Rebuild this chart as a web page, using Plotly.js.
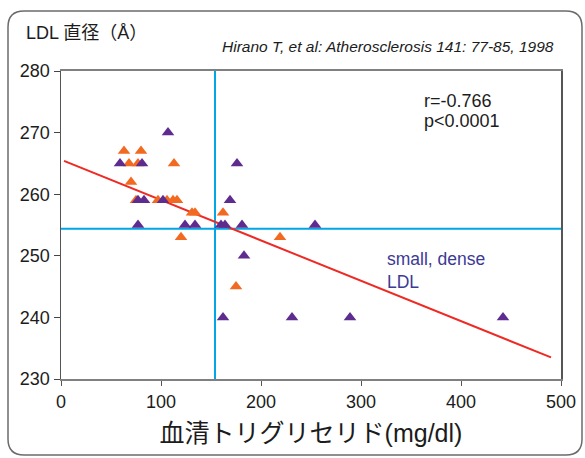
<!DOCTYPE html>
<html>
<head>
<meta charset="utf-8">
<script src="https://cdn.plot.ly/plotly-3.0.1.min.js"></script>
<style>html,body{margin:0;padding:0;background:#fff;}#chart{width:585px;height:458px;}</style>
</head>
<body>
<div id="chart"></div>
<script>
// ---- data ----
const orangeX = [63, 80, 68, 77, 113, 70, 75, 97, 106, 112, 116, 131, 134, 162, 120, 219, 175];
const orangeY = [267, 267, 265, 265, 265, 262, 259, 259, 259, 259, 259, 257, 257, 257, 253, 253, 245];
const purpleX = [107, 59, 81, 176, 77, 83, 102, 169, 77, 124, 134, 160, 164, 181, 254, 183, 162, 231, 289, 442];
const purpleY = [270, 265, 265, 265, 259, 259, 259, 259, 255, 255, 255, 255, 255, 255, 255, 250, 240, 240, 240, 240];
const regX = [3, 490];
const regY = [265.4, 233.5];
const tgCut = 154;
const ldlCut = 254.4;
const xTicks = [0, 100, 200, 300, 400, 500];
const yTicks = [230, 240, 250, 260, 270, 280];

// ---- layout helpers ----
const L = 61, R = 561, T = 71, B = 379;
const px = v => (v - L) / (R - L);
const py = v => (B - v) / (B - T);

function roundRect(x0, y0, x1, y1, r) {
  const a = px(x0), b = px(x1), c = py(y0), d = py(y1);
  const rx = r / (R - L), ry = r / (B - T);
  return `M ${a + rx},${c} L ${b - rx},${c} Q ${b},${c} ${b},${c - ry} L ${b},${d + ry} Q ${b},${d} ${b - rx},${d} L ${a + rx},${d} Q ${a},${d} ${a},${d + ry} L ${a},${c - ry} Q ${a},${c} ${a + rx},${c} Z`;
}

const FONT = 'Liberation Sans, Arial, Noto Sans CJK JP, sans-serif';
const JFONT = 'Liberation Sans, Noto Sans CJK JP, sans-serif';
const INK = '#1c1c1c';

const traces = [
  { x: regX, y: regY, mode: 'lines', line: { color: '#ee2a24', width: 2 }, hoverinfo: 'skip', showlegend: false },
  { x: orangeX, y: orangeY, mode: 'markers', marker: { symbol: 'triangle-up', size: 11, color: '#f26a21', line: { width: 0 } }, showlegend: false },
  { x: purpleX, y: purpleY, mode: 'markers', marker: { symbol: 'triangle-up', size: 11, color: '#5e2b8f', line: { width: 0 } }, showlegend: false }
];

const layout = {
  width: 585, height: 458,
  margin: { l: L, r: 585 - R, t: T, b: 458 - B, pad: 0 },
  paper_bgcolor: '#fff', plot_bgcolor: '#fff',
  font: { family: FONT, color: INK, size: 14 },
  xaxis: {
    range: [0, 500], tickvals: xTicks, ticks: 'outside', ticklen: 5, tickwidth: 1, tickcolor: '#555',
    showgrid: false, zeroline: false, showline: true, linecolor: '#808080', linewidth: 2, mirror: true,
    tickfont: { size: 18, family: FONT, color: INK },
    title: { text: '血清トリグリセリド(mg/dl)', font: { size: 25, family: JFONT, color: INK }, standoff: 14 }
  },
  yaxis: {
    range: [230, 280], tickvals: yTicks, ticks: 'outside', ticklen: 6, tickwidth: 1, tickcolor: '#444',
    showgrid: false, zeroline: false, showline: true, linecolor: '#555', linewidth: 1.5, mirror: true,
    tickfont: { size: 18, family: FONT, color: INK }
  },
  shapes: [
    { type: 'line', xref: 'x', yref: 'paper', x0: tgCut, x1: tgCut, y0: 0, y1: 1, line: { color: '#00a6e6', width: 2 }, layer: 'below' },
    { type: 'line', xref: 'paper', yref: 'y', x0: 0, x1: 1, y0: ldlCut, y1: ldlCut, line: { color: '#00a6e6', width: 2 }, layer: 'below' },
    { type: 'path', xref: 'paper', yref: 'paper', path: roundRect(8, 11, 582, 455, 16), line: { color: '#6b6b6b', width: 1.5 }, fillcolor: 'rgba(0,0,0,0)' }
  ],
  annotations: [
    { text: 'LDL 直径（Å）', xref: 'paper', yref: 'paper', x: px(24), y: py(33), xanchor: 'left', yanchor: 'middle', showarrow: false, font: { size: 18, family: JFONT, color: INK } },
    { text: '<i>Hirano T, et al: Atherosclerosis 141: 77-85, 1998</i>', xref: 'paper', yref: 'paper', x: px(556), y: py(47), xanchor: 'right', yanchor: 'middle', showarrow: false, font: { size: 15.5, family: FONT, color: INK } },
    { text: 'r=-0.766', xref: 'paper', yref: 'paper', x: px(422), y: py(101), xanchor: 'left', yanchor: 'middle', showarrow: false, font: { size: 18, family: FONT, color: INK } },
    { text: 'p<0.0001', xref: 'paper', yref: 'paper', x: px(422), y: py(121), xanchor: 'left', yanchor: 'middle', showarrow: false, font: { size: 18, family: FONT, color: INK } },
    { text: 'small, dense', xref: 'paper', yref: 'paper', x: px(385), y: py(259), xanchor: 'left', yanchor: 'middle', showarrow: false, font: { size: 17.5, family: FONT, color: '#3b3a96' } },
    { text: 'LDL', xref: 'paper', yref: 'paper', x: px(385), y: py(282), xanchor: 'left', yanchor: 'middle', showarrow: false, font: { size: 17.5, family: FONT, color: '#3b3a96' } }
  ]
};

Plotly.newPlot('chart', traces, layout, { displayModeBar: false, staticPlot: true });
</script>
</body>
</html>
